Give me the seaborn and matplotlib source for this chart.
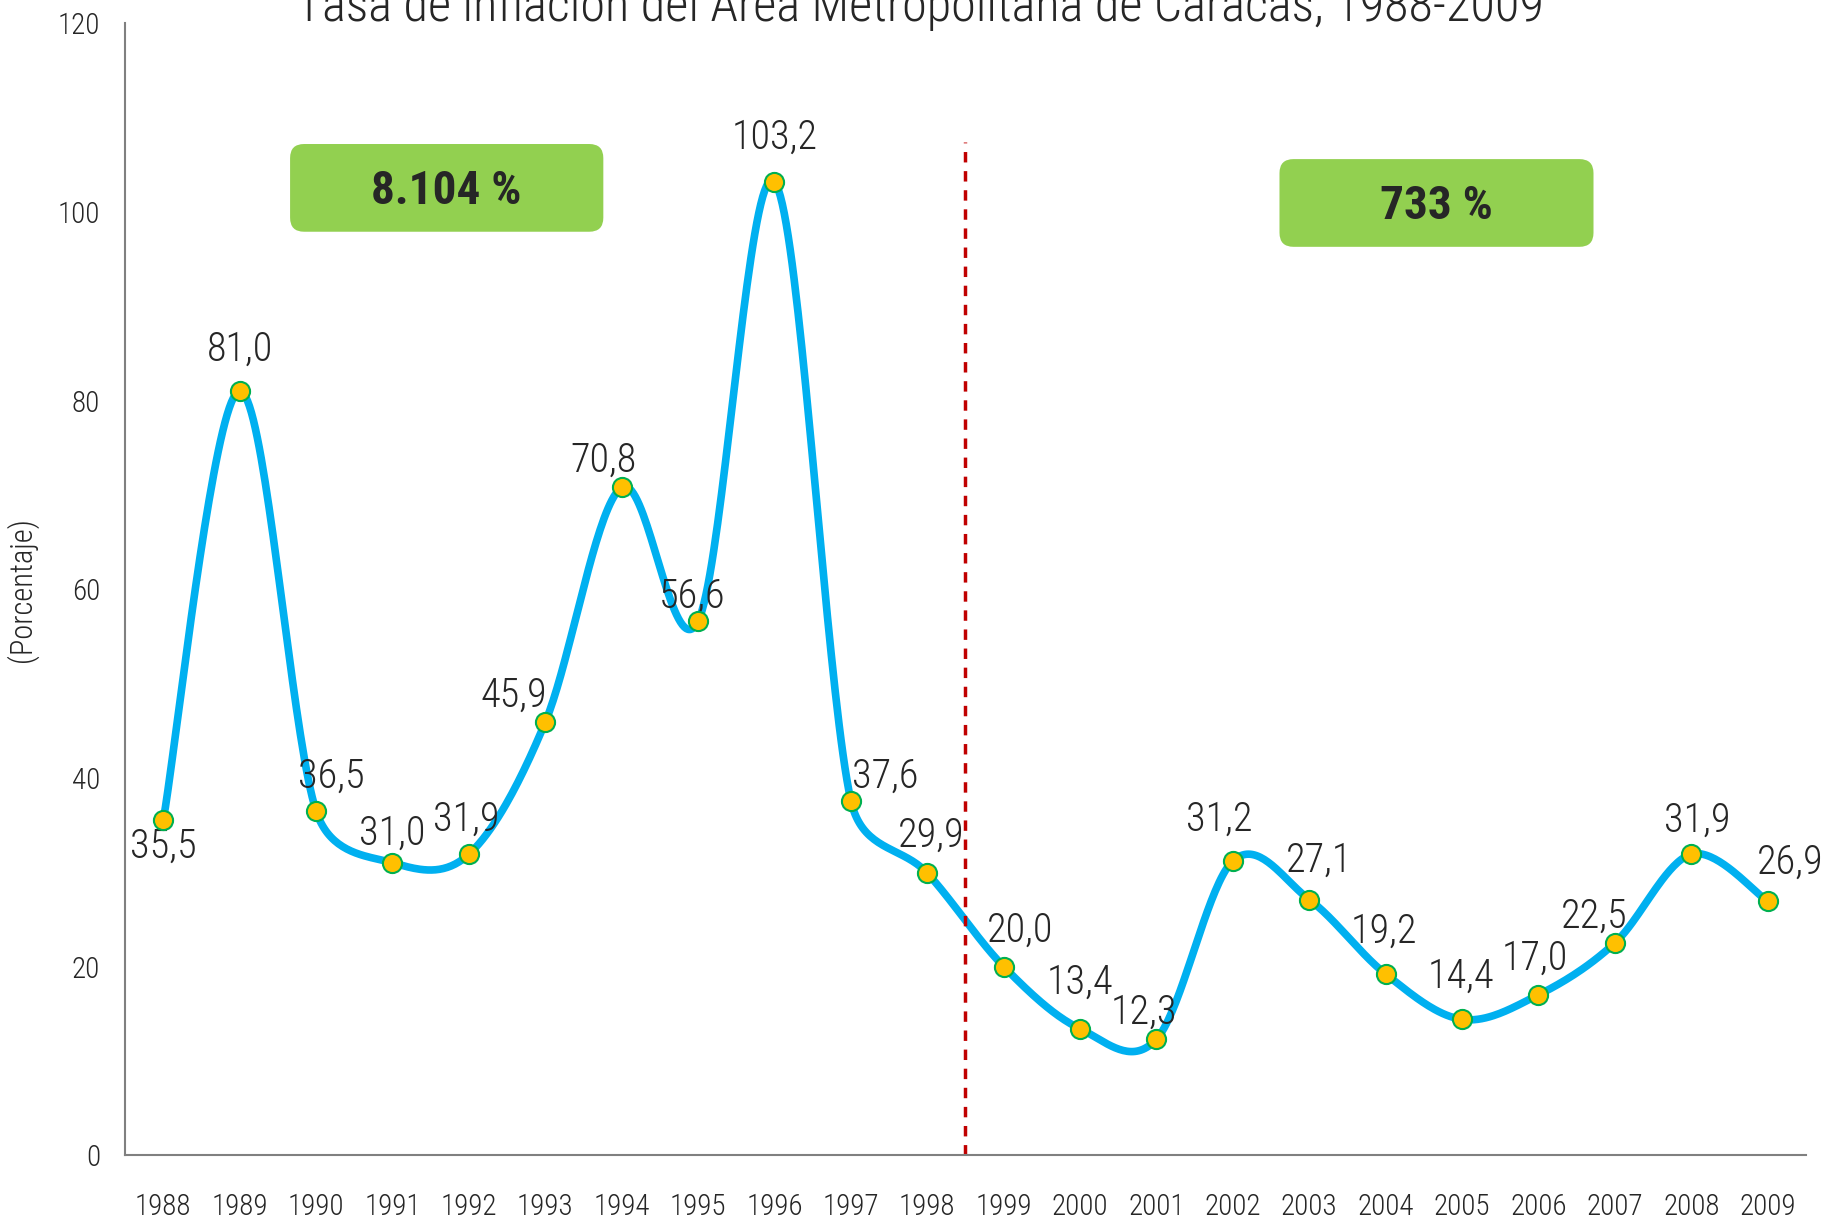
import numpy as np
import pandas as pd
import seaborn as sns
import matplotlib.pyplot as plt
from matplotlib.patches import FancyBboxPatch
from matplotlib.ticker import FixedLocator

# Data
years = [1988, 1989, 1990, 1991, 1992, 1993, 1994, 1995, 1996, 1997, 1998,
         1999, 2000, 2001, 2002, 2003, 2004, 2005, 2006, 2007, 2008, 2009]
inflation = [35.5, 81.0, 36.5, 31.0, 31.9, 45.9, 70.8, 56.6, 103.2, 37.6, 29.9,
             20.0, 13.4, 12.3, 31.2, 27.1, 19.2, 14.4, 17.0, 22.5, 31.9, 26.9]
period_totals = ['8.104 %', '733 %']

# label offsets (points): dx, dy
label_offsets = [(0, -19), (0, 30), (11, 25), (0, 21), (-2, 25), (-23, 19),
                 (-13, 19), (-4, 18), (0, 32), (25, 17), (3, 27), (12, 26),
                 (0, 33), (-9, 19), (-10, 30), (7, 28), (-1, 31), (-1, 31),
                 (-3, 26), (-15, 19), (4, 24), (16, 28)]

sns.set_style('white')
plt.rcParams['font.family'] = ['Roboto Condensed', 'DejaVu Sans']
plt.rcParams['font.weight'] = 'light'

fig = plt.figure(figsize=(18.39, 12.25), dpi=100)
ax = fig.add_axes([0.068, 0.057, 0.914, 0.924])
ax.set_xlim(-0.5, len(years) - 0.5)
ax.set_ylim(0, 120)

bb = ax.get_window_extent()
px_x = bb.width / 22
px_y = bb.height / 120

df = pd.DataFrame({'x': np.arange(len(years)), 'y': inflation})

# excel-like smoothed line (bezier, arms capped at half the segment)
def smooth(xs, ys, n=40):
    pts = np.column_stack([xs, ys]).astype(float)
    sc = np.array([px_x, px_y])
    m = len(pts)
    out = []
    for i in range(m - 1):
        p0 = pts[max(i - 1, 0)]
        p1 = pts[i]
        p2 = pts[i + 1]
        p3 = pts[min(i + 2, m - 1)]
        d02 = np.linalg.norm((p2 - p0) * sc)
        d13 = np.linalg.norm((p3 - p1) * sc)
        d12 = np.linalg.norm((p2 - p1) * sc)
        f0 = d12 / 2 / d02 if d02 / 6 >= d12 / 2 else 1 / 6
        f1 = d12 / 2 / d13 if d13 / 6 >= d12 / 2 else 1 / 6
        c1 = p1 + (p2 - p0) * f0
        c2 = p2 - (p3 - p1) * f1
        t = np.linspace(0, 1, n)[:, None]
        seg = ((1 - t) ** 3) * p1 + 3 * ((1 - t) ** 2) * t * c1 + 3 * (1 - t) * t ** 2 * c2 + t ** 3 * p2
        out.append(seg if i == 0 else seg[1:])
    return np.vstack(out)

curve = smooth(df['x'], df['y'])
cdf = pd.DataFrame({'x': curve[:, 0], 'y': curve[:, 1]})

sns.lineplot(data=cdf, x='x', y='y', sort=False, color='#00B0F0', lw=5.5, ax=ax)
sns.scatterplot(data=df, x='x', y='y', s=190, color='#FFC000', edgecolor='#00B050',
                linewidth=1.5, zorder=5, ax=ax)

for i, v in enumerate(inflation):
    dx, dy = label_offsets[i]
    ax.annotate(f'{v:.1f}'.replace('.', ','), (i, v), xytext=(dx, dy),
                textcoords='offset points', ha='center', va='center', fontsize=29)

ax.set_xlim(-0.5, len(years) - 0.5)
ax.set_ylim(0, 120)
ax.set_yticks(range(0, 121, 20))
ax.set_xticks(range(len(years)))
ax.set_xticklabels([str(y) for y in years])
ax.xaxis.set_minor_locator(FixedLocator(np.arange(-0.5, len(years), 1)))
ax.tick_params(axis='x', which='major', length=0, pad=27, labelsize=21)
ax.tick_params(axis='x', which='minor', length=9, width=1.5, color='#808080', direction='out')
ax.tick_params(axis='y', length=8, width=1.5, color='#808080', direction='out', labelsize=21, pad=10)
ax.set_xlabel('')
ax.set_ylabel('(Porcentaje)', fontsize=22, fontweight='light', labelpad=14)
for s in ['top', 'right']:
    ax.spines[s].set_visible(False)
for s in ['left', 'bottom']:
    ax.spines[s].set_color('#808080')
    ax.spines[s].set_linewidth(1.5)

# divider 1998/1999
ax.vlines(10.5, 0, 107.4, colors='#C00000', linestyles=(0, (3, 2.5)), lw=2.5)

# boxes with period totals
boxes = [(1.66, 97.9, 4.1, 9.3), (14.61, 96.3, 4.11, 9.3)]
for (bx, by, bw, bh), txt in zip(boxes, period_totals):
    r = 14 / px_x
    p = FancyBboxPatch((bx, by), bw, bh, boxstyle=f'round,pad=0,rounding_size={r}',
                       mutation_aspect=px_x / px_y, fc='#92D050', ec='none', zorder=3)
    ax.add_patch(p)
    ax.text(bx + bw / 2, by + bh / 2 - 0.35, txt, ha='center', va='center',
            fontsize=34, fontweight='bold', zorder=4)

fig.text(0.5, 0.983, 'Tasa de inflación del Área Metropolitana de Caracas, 1988-2009',
         ha='center', va='baseline', fontsize=36.3)

fig.savefig('out.png', dpi=100)
